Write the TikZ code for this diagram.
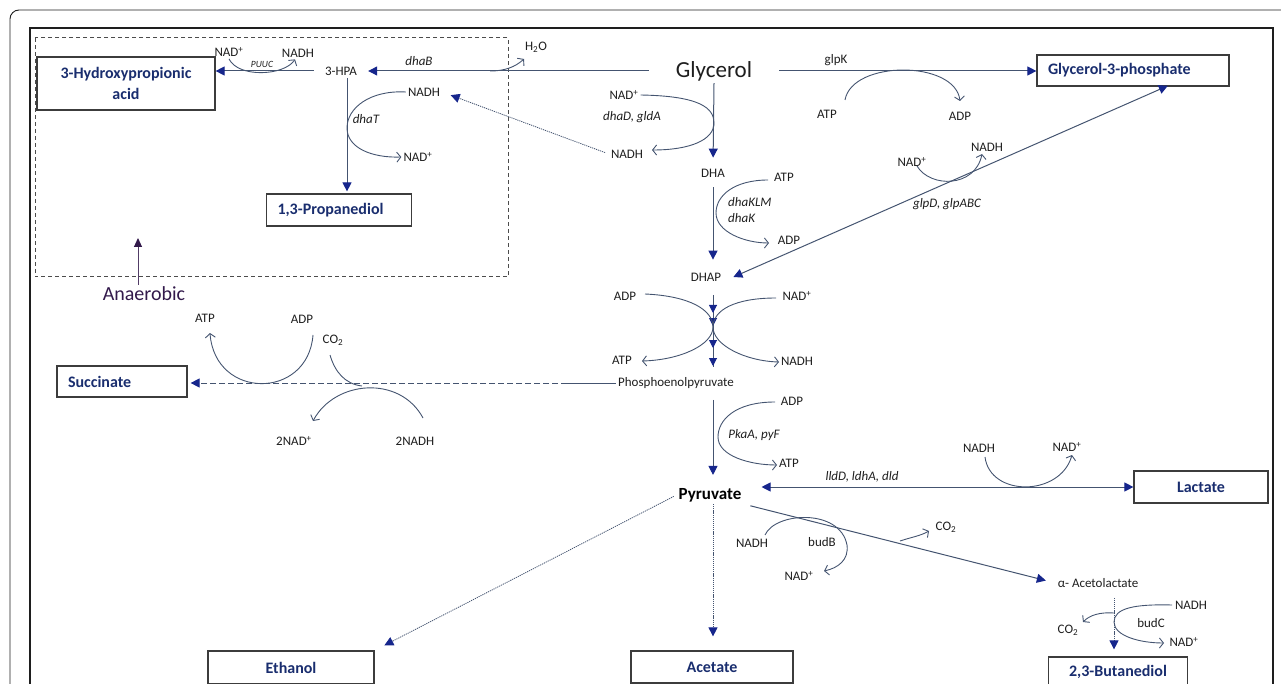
\documentclass[tikz,border=0pt]{standalone}
\usepackage{fontspec}
\setmainfont{Carlito}
\usetikzlibrary{arrows.meta,decorations.markings}
\definecolor{linec}{RGB}{68,84,112}
\definecolor{headc}{RGB}{22,38,140}
\definecolor{boxtext}{RGB}{25,45,110}
\definecolor{boxdraw}{RGB}{60,60,60}
\definecolor{anaerc}{RGB}{50,25,75}
\definecolor{framec}{RGB}{30,30,30}
\definecolor{labc}{RGB}{30,30,30}
\tikzset{
  lbl/.style={inner sep=2pt, font=\fontsize{13}{15}\selectfont, text=labc},
  gene/.style={inner sep=2pt, font=\fontsize{13}{16}\selectfont\itshape, text=labc},
  prodc/.style={draw=boxdraw, line width=1.2pt, font=\fontsize{16}{21}\selectfont\bfseries, text=boxtext, align=center, inner sep=0pt},
  prodl/.style={prodc, align=left, inner xsep=11pt},
  main/.style={draw=linec, line width=1pt},
  cof/.style={draw=linec, line width=0.9pt, -{Straight Barb[length=4pt,width=10pt]}},
  tri/.style={-{Triangle[length=9pt,width=9pt,color=headc]}},
  bitri/.style={{Triangle[length=9pt,width=9pt,color=headc]}-{Triangle[length=9pt,width=9pt,color=headc]}},
  dots/.style={draw=linec, line width=0.8pt, dash pattern=on 1.2pt off 0.9pt},
  dashline/.style={draw=linec, line width=1pt, dash pattern=on 6pt off 3pt},
  dashbox/.style={draw=black!70, line width=1pt, dash pattern=on 4pt off 3pt},
  midtri/.style={postaction={decorate}, decoration={markings,
    mark=at position 18pt with {\arrow{Triangle[length=8pt,width=8pt,color=headc]}},
    mark=at position 31pt with {\arrow{Triangle[length=8pt,width=8pt,color=headc]}},
    mark=at position 53pt with {\arrow{Triangle[length=8pt,width=8pt,color=headc]}},
    mark=at position 71pt with {\arrow{Triangle[length=8pt,width=8pt,color=headc]}}}}
}
\begin{document}
\begin{tikzpicture}[x=1pt,y=-1pt]
\useasboundingbox (0,0) rectangle (1281,684);
\clip (0,0) rectangle (1281,684);
% frames
\draw[framec, line width=0.9pt, rounded corners=9pt] (10,720) -- (10,10) -- (1300,10);
\draw[framec, line width=2pt] (30,720) -- (30,28) -- (1273,28) -- (1273,720);
\draw[dashbox] (35,38) rectangle (508,277);

% product boxes
\node[prodc, minimum width=178pt, minimum height=53pt] (acid) at (126,83.5) {3-Hydroxypropionic\\acid};
\node[prodl, text width=123pt, minimum height=32pt] (pdo) at (339,210) {1,3-Propanediol};
\node[prodl, text width=170pt, minimum height=31pt] (g3p) at (1133,70.5) {Glycerol-3-phosphate};
\node[prodl, text width=108pt, minimum height=31pt] (succ) at (122,381.5) {Succinate};
\node[prodc, minimum width=134pt, minimum height=32pt] (lact) at (1201,487) {Lactate};
\node[prodc, minimum width=166pt, minimum height=33pt] (eth) at (291,667.5) {Ethanol};
\node[prodc, minimum width=162pt, minimum height=32pt] (acet) at (712,667) {Acetate};
\node[prodc, minimum width=139pt, minimum height=29pt] (bdo) at (1118,671.5) {2,3-Butanediol};

% metabolites
\node[font=\fontsize{23}{27}\selectfont, text=labc, inner xsep=27pt, inner ysep=2pt] (gly) at (714,71) {Glycerol};
\node[lbl, inner xsep=11pt, inner ysep=3pt] (hpa) at (341,71) {3-HPA};
\node[lbl] (dha) at (713,173) {DHA};
\node[lbl, inner xsep=12pt] (dhap) at (706,277) {DHAP};
\node[lbl] (pep) at (676,383) {Phosphoenolpyruvate};
\node[inner sep=2pt, font=\fontsize{17}{20}\selectfont\bfseries, text=black] (pyr) at (710,495) {Pyruvate};
\node[lbl] (aceto) at (1098,583) {α- Acetolactate};
\node[font=\fontsize{20}{24}\selectfont, text=anaerc, inner sep=2pt] (anaer) at (144,294) {Anaerobic};
\coordinate (anaTip) at (138,238);

% cofactors and genes
\node[lbl] (pnad) at (229,52) {NAD\textsuperscript{+}};
\node[lbl] (pnadh) at (298,53) {NADH};
\node[inner sep=1pt, font=\fontsize{9.5}{11}\selectfont\itshape, text=labc] (puuc) at (262,64) {PUUC};
\node[gene] (dhab) at (419,61) {dhaB};
\node[lbl] (h2o) at (536,47) {H\textsubscript{2}O};
\node[lbl] (nadh2) at (424,92) {NADH};
\node[gene] (dhat) at (366,119) {dhaT};
\node[lbl] (nad2) at (418,157) {NAD\textsuperscript{+}};
\node[lbl] (nad1) at (624,95) {NAD\textsuperscript{+}};
\node[gene] (dhad) at (632,117) {dhaD, gldA};
\node[lbl] (nadh1) at (627,154) {NADH};
\node[lbl] (glpk) at (836,60) {glpK};
\node[lbl] (atp1) at (827,114) {ATP};
\node[lbl] (adp1) at (960,116) {ADP};
\node[lbl] (nad3) at (912,162) {NAD\textsuperscript{+}};
\node[lbl] (nadh3) at (987,147) {NADH};
\node[gene] (glpd) at (947,204) {glpD, glpABC};
\node[lbl] (atp2) at (784,177) {ATP};
\node[gene, align=left, anchor=west, font=\fontsize{13}{16}\selectfont\itshape] (dhak) at (726,210) {dhaKLM\\dhaK};
\node[lbl] (adp2) at (789,240) {ADP};
\node[lbl] (adp3) at (625,296) {ADP};
\node[lbl] (nad4) at (797,296) {NAD\textsuperscript{+}};
\node[lbl] (atp3) at (622,360) {ATP};
\node[lbl] (nadh4) at (797,361) {NADH};
\node[lbl] (atp4) at (205,318) {ATP};
\node[lbl] (adp4) at (302,319) {ADP};
\node[lbl] (co2a) at (333,340) {CO\textsubscript{2}};
\node[lbl] (nad5) at (294,441) {2NAD\textsuperscript{+}};
\node[lbl] (nadh5) at (415,441) {2NADH};
\node[lbl] (adp5) at (792,401) {ADP};
\node[gene] (pkaa) at (754,435) {PkaA, pyF};
\node[lbl] (atp5) at (789,463) {ATP};
\node[gene] (lldd) at (862,477) {lldD, ldhA, dld};
\node[lbl] (nadh6) at (979,448) {NADH};
\node[lbl] (nad6) at (1067,447) {NAD\textsuperscript{+}};
\node[lbl] (co2b) at (946,527) {CO\textsubscript{2}};
\node[lbl] (nadh7) at (752,543) {NADH};
\node[lbl] (budb) at (822,542) {budB};
\node[lbl] (nad7) at (799,576) {NAD\textsuperscript{+}};
\node[lbl] (nadh8) at (1191,605) {NADH};
\node[lbl] (budc) at (1151,623) {budC};
\node[lbl] (nad8) at (1184,642) {NAD\textsuperscript{+}};
\node[lbl] (co2c) at (1068,630) {CO\textsubscript{2}};

% main pathway connectors
\draw[main, tri] (gly.west) -- (hpa.east);
\draw[main, tri] (hpa.west) -- (hpa.west -| acid.east);
\draw[main, tri] (gly.east) -- (gly.east -| g3p.west);
\draw[main, tri, shorten >=2pt] ([xshift=6pt]hpa.south) -- ([xshift=6pt]hpa.south |- pdo.north);
\draw[main, tri, shorten >=9pt] (gly.south) -- (dha.north);
\draw[main, tri, shorten <=8pt, shorten >=11pt] (dha.south) -- (dha.south |- dhap.north);
\draw[main, bitri, shorten >=-2pt] (dhap.east) -- ([xshift=33pt]g3p.south);
\draw[dots, tri, shorten <=4pt, shorten >=9pt] (nadh1.west) -- (nadh2.east);
\coordinate (dA) at (713,295);
\coordinate (dB) at (713,367);
\draw[main, midtri] (dA) -- (dB);
\coordinate (pepL) at (567,383);
\draw[main] (pep.west) -- (pepL);
\draw[dashline, tri, shorten >=3pt] (pepL) -- (pepL -| succ.east);
\draw[main, tri, shorten <=9pt, shorten >=11pt] (pep.south -| dha) -- (pyr.north -| dha);
\draw[main, bitri, shorten <=18pt] (pyr.east |- lact.west) -- (lact.west);
\draw[main, tri, shorten <=7pt, shorten >=10pt] (pyr.south east) -- (aceto.west);
\draw[dots, tri, shorten >=14pt] (pyr.south -| dha) -- (acet.north -| dha);
\draw[dots, tri, shorten <=3pt, shorten >=11pt] (pyr.west) -- (eth.north east);
\draw[dots, tri, shorten <=8pt, shorten >=7pt] ([xshift=16pt]aceto.south) -- ([xshift=16pt]aceto.south |- bdo.north);
\draw[draw=anaerc!85, line width=1pt, -{Triangle[length=9pt,width=8pt,color=anaerc]}] (anaer.north -| anaTip) -- (anaTip);

% cofactor curves
\draw[cof] (pnad.south) .. controls (238,78) and (284,76) .. ([xshift=-3pt]pnadh.south);
\draw[cof] (490,71) .. controls (505,71) and (515,67) .. (524,59);
\draw[cof] (nad1.east) .. controls (700,96) and (714,108) .. (714,123) .. controls (714,140) and (690,150) .. (652,150);
\draw[cof] (nadh2.west) .. controls (370,90) and (347,108) .. (347,128) .. controls (347,148) and (372,158) .. (nad2.west);
\draw[cof] (845,100) .. controls (852,60) and (955,60) .. (960,101);
\draw[cof] (917,166) .. controls (930,188) and (975,188) .. (982,154);
\draw[cof] (768,180) .. controls (735,180) and (716,195) .. (716,213) .. controls (716,232) and (745,243) .. (769,243);
\draw[cof] (645,294) .. controls (690,296) and (713,310) .. (713,327) .. controls (713,345) and (680,360) .. (642,361);
\draw[cof] (776,298) .. controls (735,298) and (713,310) .. (713,327) .. controls (713,345) and (745,361) .. (779,362);
\draw[cof] (313,335) .. controls (308,400) and (215,400) .. (210,333);
\draw[draw=linec, line width=0.9pt] (330,355) .. controls (335,372) and (345,384) .. (362,386);
\draw[cof] (423,418) .. controls (400,375) and (335,380) .. (313,421);
\draw[cof] (775,402) .. controls (735,402) and (718,420) .. (718,437) .. controls (718,456) and (750,465) .. (777,465);
\draw[cof] (985,457) .. controls (990,497) and (1060,497) .. (1072,455);
\draw[cof] (900,541) .. controls (912,537) and (920,536) .. (929,531);
\draw[cof] (765,535) .. controls (775,512) and (840,508) .. (847,545) .. controls (849,560) and (838,568) .. (824,571);
\draw[cof] (1172,605) .. controls (1135,604) and (1114,608) .. (1114,622) .. controls (1114,636) and (1140,643) .. (1164,643);
\draw[cof] (1114,613) .. controls (1100,612) and (1090,615) .. (1083,622);
\end{tikzpicture}
\end{document}
